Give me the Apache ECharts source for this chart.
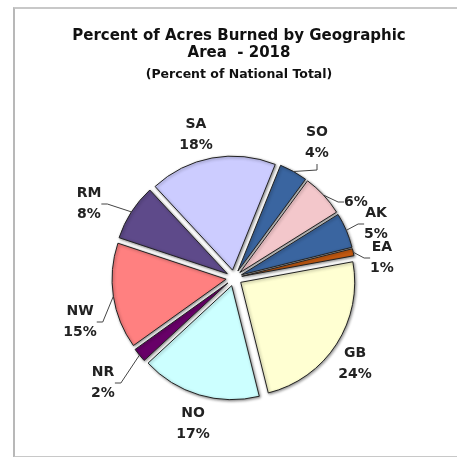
<!DOCTYPE html>
<html>
<head>
<meta charset="utf-8">
<script src="https://cdn.jsdelivr.net/npm/echarts@6/dist/echarts.min.js"></script>
<style>
  html, body { margin: 0; padding: 0; background: #fff; overflow: hidden; }
  #frame {
    position: absolute; left: 13px; top: 7px; width: 460px; height: 447px;
    border-left: 2px solid #b8b8b8; border-top: 2px solid #c8c8c8; border-bottom: 2px solid #c8c8c8;
  }
  #chart { position: absolute; left: 0; top: 0; width: 457px; height: 457px; }
</style>
</head>
<body>
<div id="frame"></div>
<div id="chart"></div>
<script>
// clockwise from top-right
const areas = ["SO", "", "AK", "EA", "GB", "NO", "NR", "NW", "RM", "SA"];
const percents = [4, 6, 5, 1, 24, 17, 2, 15, 8, 18];
const colors = ["#3a65a0", "#f3c7cb", "#3a65a0", "#c55a11", "#ffffd2", "#ccffff", "#680068", "#ff8080", "#5e4a8a", "#ccccff"];

// where each label block sits (center), same order as areas
const labelSpots = [
  [317, 143], [356, 202], [376, 224], [382, 258], [355, 364],
  [193, 424], [103, 383], [80, 322], [89, 204], [196, 135],
];
const noLine = ["GB", "NO", "SA"];

const FONT = "DejaVu Sans, Verdana, sans-serif";
const CENTER = [234, 278];
const R = 114;
const OFFSET = 8;
const chart = echarts.init(document.getElementById("chart"));

const option = {
  animation: false,
  title: [
    {
      text: "Percent of Acres Burned by Geographic\nArea  - 2018",
      left: 234, top: 23, textAlign: "center",
      textStyle: { fontFamily: FONT, fontSize: 15, fontWeight: "bold", color: "#111", lineHeight: 17 },
    },
    {
      text: "(Percent of National Total)",
      left: 234, top: 63, textAlign: "center",
      textStyle: { fontFamily: FONT, fontSize: 12.5, fontWeight: "bold", color: "#111" },
    },
  ],
  series: [
    {
      // exploded slices
      type: "pie",
      center: CENTER,
      radius: [0, R],
      startAngle: 68,
      clockwise: true,
      selectedMode: "multiple",
      selectedOffset: OFFSET,
      silent: true,
      itemStyle: {
        borderColor: "#222",
        borderWidth: 1,
        shadowColor: "rgba(0,0,0,0.45)",
        shadowBlur: 3,
        shadowOffsetX: 1,
        shadowOffsetY: 1,
      },
      label: { show: false },
      labelLine: { show: false },
      data: areas.map((a, i) => ({
        name: a,
        value: percents[i],
        selected: true,
        itemStyle: { color: colors[i] },
      })),
    },
    {
      // labels only, drawn from the same data
      type: "pie",
      center: CENTER,
      radius: [0, R + OFFSET],
      startAngle: 68,
      clockwise: true,
      silent: true,
      z: 3,
      itemStyle: { color: "rgba(0,0,0,0)", borderWidth: 0 },
      label: {
        formatter: (p) => (p.name ? p.name + "\n" : "") + p.value + "%",
        fontFamily: FONT,
        fontSize: 14,
        fontWeight: "bold",
        color: "#222",
        lineHeight: 21,
        align: "center",
      },
      labelLine: { length: 6, length2: 6, lineStyle: { color: "#444", width: 1 } },
      labelLayout: (p) => ({
        x: labelSpots[p.dataIndex][0],
        y: labelSpots[p.dataIndex][1],
        align: "center",
        verticalAlign: "middle",
      }),
      data: areas.map((a, i) => ({
        name: a,
        value: percents[i],
        labelLine: { show: !noLine.includes(a) },
      })),
    },
  ],
};

chart.setOption(option);
</script>
</body>
</html>
